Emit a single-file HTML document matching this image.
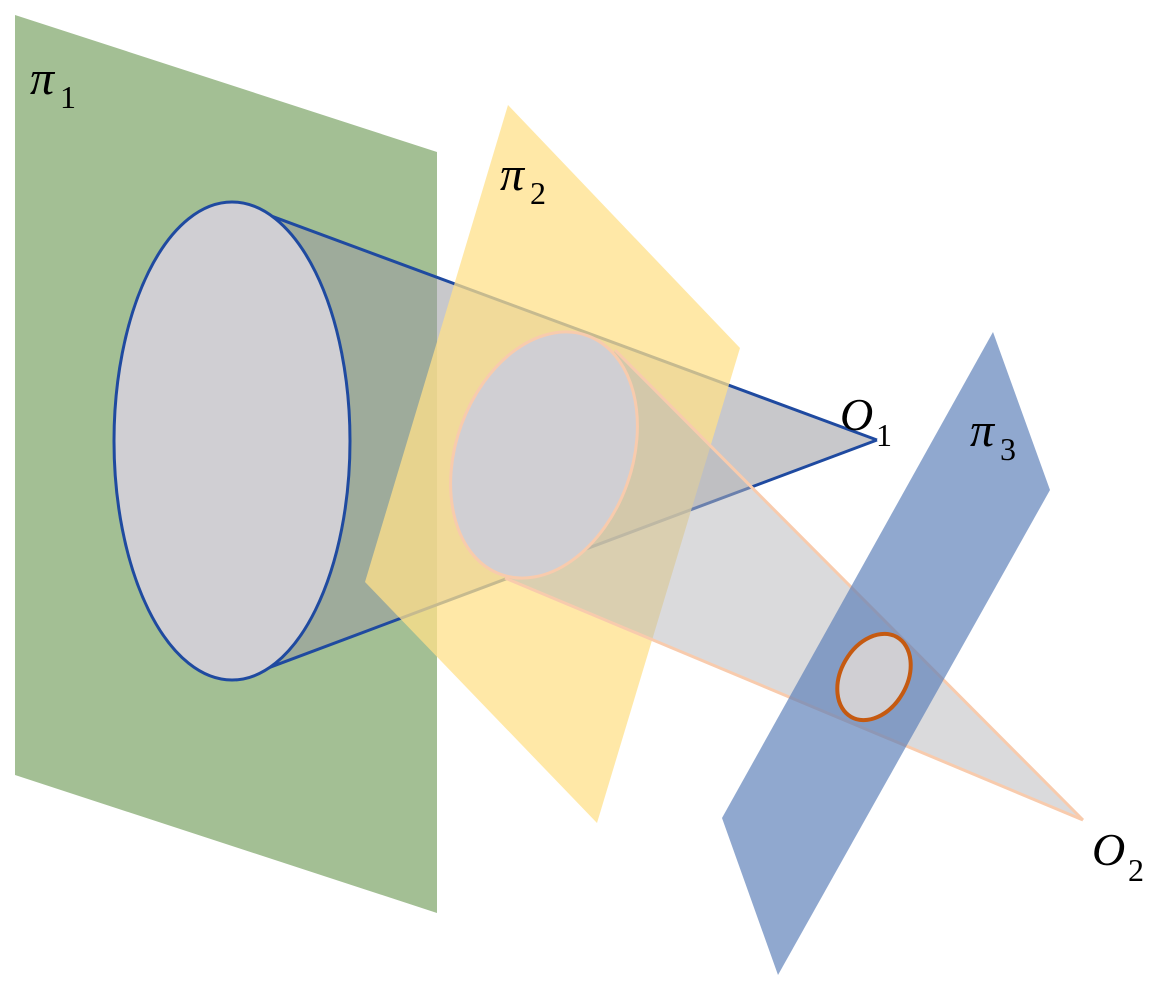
<!DOCTYPE html>
<html><head><meta charset="utf-8"><style>
html,body{margin:0;padding:0;background:#fff;width:1167px;height:993px;overflow:hidden}
svg text{font-family:"Liberation Serif",serif;fill:#000}
</style></head><body>
<svg width="1167" height="993" viewBox="0 0 1167 993" xmlns="http://www.w3.org/2000/svg">
<polygon points="15,15 437,152 437,913 15,775" fill="#a3bf94"/>
<polygon points="236,203 877,440 236,680" fill="#9a9aa0" fill-opacity="0.55"/>
<line x1="236" y1="203" x2="877" y2="440" stroke="#1f4aa0" stroke-width="3"/>
<line x1="236" y1="680" x2="877" y2="440" stroke="#1f4aa0" stroke-width="3"/>
<ellipse cx="232" cy="441" rx="118" ry="239" fill="#d0cfd3" stroke="#1f4aa0" stroke-width="3"/>
<polygon points="508,105 740,348 597,823 365,582" fill="#ffe08a" fill-opacity="0.75"/>
<polygon points="615,350 1083,820 505,578" fill="#b5b5ba" fill-opacity="0.5"/>
<line x1="615" y1="350" x2="1083" y2="820" stroke="#f8cbad" stroke-width="3"/>
<line x1="505" y1="578" x2="1083" y2="820" stroke="#f8cbad" stroke-width="3"/>
<ellipse cx="544" cy="455" rx="88" ry="127" transform="rotate(20 544 455)" fill="#d0cfd3" stroke="#f8cbad" stroke-width="3"/>
<polygon points="993,332 1050,490 778,975 722,818" fill="#5b7fb8" fill-opacity="0.68"/>
<ellipse cx="874" cy="677" rx="33" ry="46" transform="rotate(30 874 677)" fill="#d0cfd3" stroke="#c55a11" stroke-width="4"/>
<text x="30" y="94" font-size="48" font-style="italic">π</text><text x="60" y="108" font-size="32">1</text>
<text x="500" y="190" font-size="48" font-style="italic">π</text><text x="530" y="204" font-size="32">2</text>
<text x="970" y="446" font-size="48" font-style="italic">π</text><text x="1000" y="460" font-size="32">3</text>
<text x="840" y="430" font-size="46" font-style="italic">O</text><text x="876" y="446" font-size="32">1</text>
<text x="1092" y="865" font-size="46" font-style="italic">O</text><text x="1128" y="881" font-size="32">2</text>
</svg>
</body></html>
